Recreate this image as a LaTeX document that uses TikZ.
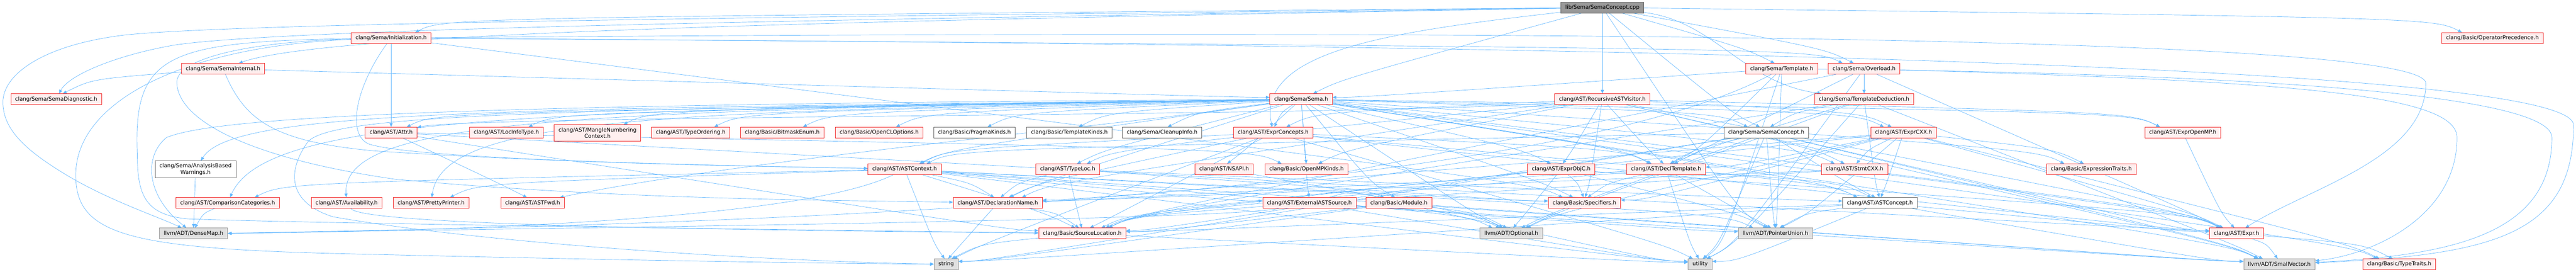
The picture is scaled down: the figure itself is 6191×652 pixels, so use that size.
\documentclass[tikz,border=0pt]{standalone}
\usepackage{fontspec}
\setmainfont{DejaVu Sans}
\usetikzlibrary{arrows.meta,calc}
\definecolor{edgec}{HTML}{63B8FF}
\definecolor{redb}{HTML}{F02828}
\definecolor{redf}{HTML}{FFF0F0}
\definecolor{grayf}{HTML}{E0E0E0}
\definecolor{grayb}{HTML}{999999}
\definecolor{darkb}{HTML}{666666}
\definecolor{cppf}{HTML}{999999}
\pgfdeclarelayer{bg}
\pgfsetlayers{bg,main}
\tikzset{
 base/.style={draw, line width=0.9pt, inner xsep=10.5pt, inner ysep=0pt, minimum height=26pt, align=center, font=\fontsize{12.9}{15.5}\selectfont},
 rn/.style={base, draw=redb, fill=redf},
 gn/.style={base, draw=grayb, fill=grayf},
 wn/.style={base, draw=darkb, fill=white},
 cn/.style={base, draw=darkb, fill=cppf},
 tall/.style={minimum height=40pt},
 edg/.style={draw=edgec, line width=0.85pt, -{Triangle[length=9pt,width=7.5pt]}},
}
\newcommand\ed[2]{\draw[edg] let \p1=(#1.center), \p2=(#2.center), \p3=(#2.north east), \p5=(#2.north),
 \n1={ifthenelse(\x1>\x2,1,-1)},
 \n2={\x2+max(min((\x1-\x2)*0.04,0.6*(\x3-\x2)),-0.6*(\x3-\x2))},
 \n3={\n2+\n1*min(abs(\x1-\x2)*0.25,70)}
 in (#1) .. controls ({\n3},{\y5+35}) .. ({\n2},{\y5});}
\newcommand\es[2]{\draw[edg] let \p1=(#1.center), \p2=(#2.center), \p3=(#2.east), \p4=(#2.west),
 \n1={ifthenelse(\x1>\x2,1,-1)},
 \n2={ifthenelse(\x1>\x2,\x3,\x4)},
 \n4={\y2+max(min((\y1-\y2)*0.06,7),-7)}
 in (#1) .. controls ({\n2+\n1*60},{\n4}) .. ({\n2},{\n4});}
\begin{document}
\begin{tikzpicture}[x=1pt,y=1pt]
\useasboundingbox (0,0) rectangle (6191,-652);
\begin{pgfonlayer}{bg}
\fill[white] (0,0) rectangle (6191,-652);
\end{pgfonlayer}
% row 0
\node[cn] (cpp) at (3851,-18) {lib/Sema/SemaConcept.cpp};
% row 1
\node[rn] (init) at (940,-91) {clang/Sema/Initialization.h};
\node[rn] (opprec) at (5990,-91) {clang/Basic/OperatorPrecedence.h};
% row 2
\node[rn] (semaint) at (536,-165) {clang/Sema/SemaInternal.h};
\node[rn] (tmpl) at (4282,-165) {clang/Sema/Template.h};
\node[rn] (ovl) at (4480,-165) {clang/Sema/Overload.h};
% row 3
\node[rn] (semadiag) at (135,-238) {clang/Sema/SemaDiagnostic.h};
\node[rn] (sema) at (3127,-238) {clang/Sema/Sema.h};
\node[rn] (rav) at (3851,-238) {clang/AST/RecursiveASTVisitor.h};
\node[rn] (tded) at (4480,-238) {clang/Sema/TemplateDeduction.h};
% row 4
\node[rn] (attr) at (940,-318) {clang/AST/Attr.h};
\node[rn] (locinfo) at (1217,-318) {clang/AST/LocInfoType.h};
\node[rn,tall] (mangle) at (1436,-319) {clang/AST/MangleNumbering\\Context.h};
\node[rn] (typeord) at (1660,-318) {clang/AST/TypeOrdering.h};
\node[rn] (bitmask) at (1880,-318) {clang/Basic/BitmaskEnum.h};
\node[rn] (opencl) at (2113,-318) {clang/Basic/OpenCLOptions.h};
\node[wn] (pragma) at (2342,-318) {clang/Basic/PragmaKinds.h};
\node[wn] (tkinds) at (2570,-318) {clang/Basic/TemplateKinds.h};
\node[wn] (cleanup) at (2793,-318) {clang/Sema/CleanupInfo.h};
\node[rn] (exprconc) at (3060,-318) {clang/AST/ExprConcepts.h};
\node[wn] (semaconc) at (4245,-318) {clang/Sema/SemaConcept.h};
\node[rn] (exprcxx) at (4575,-318) {clang/AST/ExprCXX.h};
\node[rn] (expromp) at (5246,-318) {clang/AST/ExprOpenMP.h};
% row 5
\node[wn,tall] (abw) at (470,-406) {clang/Sema/AnalysisBased\\Warnings.h};
\node[rn] (astctx) at (2174,-406) {clang/AST/ASTContext.h};
\node[rn] (typeloc) at (2566,-406) {clang/AST/TypeLoc.h};
\node[rn] (nsapi) at (2942,-406) {clang/AST/NSAPI.h};
\node[rn] (ompkinds) at (3140,-406) {clang/Basic/OpenMPKinds.h};
\node[rn] (exprobjc) at (3752,-406) {clang/AST/ExprObjC.h};
\node[rn] (decltmpl) at (4004,-406) {clang/AST/DeclTemplate.h};
\node[rn] (stmtcxx) at (4457,-406) {clang/AST/StmtCXX.h};
\node[rn] (exprtraits) at (5026,-406) {clang/Basic/ExpressionTraits.h};
% row 6
\node[rn] (compcat) at (547,-487) {clang/AST/ComparisonCategories.h};
\node[rn] (avail) at (833,-487) {clang/AST/Availability.h};
\node[rn] (pretty) at (1036,-487) {clang/AST/PrettyPrinter.h};
\node[rn] (astfwd) at (1280,-487) {clang/AST/ASTFwd.h};
\node[rn] (declname) at (2398,-487) {clang/AST/DeclarationName.h};
\node[rn] (extsrc) at (3147,-487) {clang/AST/ExternalASTSource.h};
\node[rn] (module) at (3362,-487) {clang/Basic/Module.h};
\node[rn] (spec) at (3808,-487) {clang/Basic/Specifiers.h};
\node[wn] (astconc) at (4518,-487) {clang/AST/ASTConcept.h};
% row 7
\node[gn] (densemap) at (465,-560) {llvm/ADT/DenseMap.h};
\node[rn] (srcloc) at (2601,-560) {clang/Basic/SourceLocation.h};
\node[gn] (optional) at (3632,-560) {llvm/ADT/Optional.h};
\node[gn] (ptrunion) at (4267,-560) {llvm/ADT/PointerUnion.h};
\node[rn] (expr) at (5375,-560) {clang/AST/Expr.h};
% row 8
\node[gn] (string) at (2274,-634) {string};
\node[gn] (utility) at (4086,-634) {utility};
\node[gn] (smallvec) at (5478,-634) {llvm/ADT/SmallVector.h};
\node[rn] (typetraits) at (5766,-634) {clang/Basic/TypeTraits.h};

\begin{pgfonlayer}{bg}
% cpp
\ed{cpp}{init}
\draw[edg] (cpp) .. controls (2200,-48) and (800,-72) .. (semaint);
\draw[edg] (cpp) .. controls (2200,-44) and (700,-66) .. (420,-108) .. controls (280,-132) and (165,-180) .. (semadiag);
\draw[edg] (cpp) .. controls (2200,-38) and (600,-52) .. (300,-84) .. controls (100,-108) and (7,-180) .. (7,-245) .. controls (7,-310) and (60,-360) .. (160,-420) .. controls (260,-480) and (380,-520) .. (densemap);
\ed{cpp}{sema}
\ed{cpp}{rav}
\draw[edg] (cpp) .. controls (3350,-75) and (3020,-120) .. (exprconc);
\ed{cpp}{semaconc}
\ed{cpp}{tmpl}
\ed{cpp}{ovl}
\draw[edg] (cpp) .. controls (4120,-50) and (4190,-200) .. (tded);
\ed{cpp}{opprec}
\ed{cpp}{ptrunion}
% init
\ed{init}{attr}
\ed{init}{ovl}
\ed{init}{spec}
\draw[edg] (init) .. controls (860,-200) and (830,-318) .. (885,-345) .. controls (1000,-385) and (1800,-398) .. (astctx);
\draw[edg] (init) .. controls (600,-100) and (420,-140) .. (425,-200) .. controls (430,-290) and (600,-380) .. (950,-430) .. controls (1500,-480) and (2000,-480) .. (declname);
\draw[edg] (init) .. controls (400,-100) and (320,-130) .. (330,-370) .. controls (330,-470) and (350,-515) .. (450,-525) .. controls (700,-535) and (1800,-550) .. (srcloc);
\draw[edg] (init) .. controls (450,-110) and (182,-240) .. (182,-420) .. controls (182,-560) and (300,-595) .. (800,-608) .. controls (1500,-625) and (2000,-632) .. (string);
\draw[edg] (init) .. controls (3000,-75) and (5830,-70) .. (5830,-200) .. controls (5830,-380) and (5550,-450) .. (expr);
\draw[edg] (init) .. controls (3000,-105) and (6185,-130) .. (6185,-300) .. controls (6185,-560) and (6000,-612) .. (smallvec);
% semaint
\es{semaint}{sema}
\ed{semaint}{semadiag}
\draw[edg] (semaint) .. controls (590,-290) and (660,-340) .. (900,-362) .. controls (1400,-395) and (1900,-400) .. (astctx);
% tmpl
\ed{tmpl}{decltmpl}
\es{tmpl}{sema}
\draw[edg] (tmpl) .. controls (3600,-530) and (1000,-548) .. (densemap.east);
\ed{tmpl}{ptrunion}
\draw[edg] (tmpl) .. controls (5000,-172) and (6133,-200) .. (6133,-330) .. controls (6133,-560) and (5900,-612) .. (smallvec);
\ed{tmpl}{utility}
% ovl
\ed{ovl}{decltmpl}
\ed{ovl}{expr}
\ed{ovl}{srcloc}
\ed{ovl}{tded}
\draw[edg] (ovl) .. controls (5500,-195) and (5905,-225) .. (5905,-330) .. controls (5905,-520) and (5700,-612) .. (smallvec);
\ed{ovl}{utility}
% sema
\foreach \t in {astconc,attr,decltmpl,declname,expr,exprcxx,exprconc,exprobjc,expromp,extsrc,locinfo,mangle,nsapi,stmtcxx,typeloc,typeord,bitmask,exprtraits,module,opencl,ompkinds,pragma,spec,tkinds,typetraits,cleanup,semaconc,astctx,optional,smallvec}{\ed{sema}{\t}}
\draw[edg] (sema) .. controls (1200,-262) and (560,-262) .. (abw);
\draw[edg] (sema) .. controls (1300,-264) and (640,-276) .. (compcat);
\draw[edg] (sema) .. controls (1400,-266) and (820,-282) .. (avail);
\draw[edg] (sema) .. controls (1600,-268) and (1065,-278) .. (pretty);
\draw[edg] (sema) .. controls (2700,-300) and (1800,-380) .. (astfwd);
\draw[edg] (sema) .. controls (1100,-250) and (520,-280) .. (400,-330) .. controls (345,-375) and (350,-470) .. (densemap);
\draw[edg] (sema) .. controls (1300,-262) and (800,-275) .. (740,-340) .. controls (690,-410) and (690,-485) .. (800,-520) .. controls (1200,-590) and (1900,-628) .. (string);
% rav
\draw[edg] (rav) .. controls (3300,-280) and (1150,-276) .. (attr);
\foreach \t in {declname,decltmpl,expr,exprconc,exprcxx,exprobjc,expromp,stmtcxx,typeloc,ompkinds,spec,smallvec}{\ed{rav}{\t}}
% tded
\foreach \t in {semaconc,astconc,decltmpl,srcloc,optional,smallvec,utility}{\ed{tded}{\t}}
% semaconc
\foreach \t in {astconc,astctx,decltmpl,ptrunion,optional,smallvec,utility}{\ed{semaconc}{\t}}
\es{semaconc}{expr}
\es{semaconc}{srcloc}
\es{semaconc}{string}
% exprconc
\foreach \t in {astctx,astconc,declname,decltmpl,srcloc,utility,string}{\ed{exprconc}{\t}}
\es{exprconc}{expr}
% attr
\ed{attr}{astfwd}
\ed{attr}{ompkinds}
\es{attr}{srcloc}
\es{attr}{expr}
% astctx
\ed{astctx}{compcat}
\ed{astctx}{pretty}
\ed{astctx}{declname}
\es{astctx}{extsrc}
\ed{astctx}{srcloc}
\es{astctx}{spec}
\ed{astctx}{optional}
\ed{astctx}{ptrunion}
\es{astctx}{smallvec}
\ed{astctx}{string}
\es{astctx}{utility}
\draw[edg] (astctx) .. controls (1900,-540) and (900,-556) .. (densemap.east);
% typeloc
\es{typeloc}{astconc}
\ed{typeloc}{declname}
\ed{typeloc}{srcloc}
\es{typeloc}{spec}
% nsapi
\ed{nsapi}{optional}
% exprobjc
\foreach \t in {expr,srcloc,spec,optional,ptrunion}{\ed{exprobjc}{\t}}
% decltmpl
\ed{decltmpl}{astconc}
\es{decltmpl}{declname}
\ed{decltmpl}{srcloc}
\ed{decltmpl}{spec}
\ed{decltmpl}{ptrunion}
\ed{decltmpl}{utility}
% stmtcxx
\es{stmtcxx}{declname}
\ed{stmtcxx}{expr}
\ed{stmtcxx}{srcloc}
% exprcxx
\foreach \t in {astconc,expr,stmtcxx,exprtraits,srcloc,typetraits,optional,ptrunion}{\ed{exprcxx}{\t}}
\es{exprcxx}{decltmpl}
\es{exprcxx}{declname}
\es{exprcxx}{spec}
% expromp
\ed{expromp}{expr}
% extsrc
\draw[edg] (extsrc) .. controls (3270,-452) .. (module);
\draw[edg] (extsrc) .. controls (2900,-532) and (900,-552) .. (densemap.east);
\ed{extsrc}{optional}
\es{extsrc}{ptrunion}
\es{extsrc}{smallvec}
\es{extsrc}{utility}
% module
\es{module}{srcloc}
\ed{module}{optional}
\es{module}{smallvec}
\es{module}{string}
\es{module}{utility}
% astconc
\es{astconc}{expr}
\es{astconc}{srcloc}
\ed{astconc}{ptrunion}
\es{astconc}{smallvec}
\es{astconc}{string}
\es{astconc}{utility}
% expr
\ed{expr}{smallvec}
\ed{expr}{typetraits}
% declname
\ed{declname}{srcloc}
\ed{declname}{string}
% srcloc
\ed{srcloc}{string}
\es{srcloc}{utility}
% misc
\ed{compcat}{densemap}
\ed{abw}{densemap}
\draw[edg] (avail) .. controls (870,-535) and (1500,-550) .. (srcloc);
\end{pgfonlayer}
\end{tikzpicture}
\end{document}
